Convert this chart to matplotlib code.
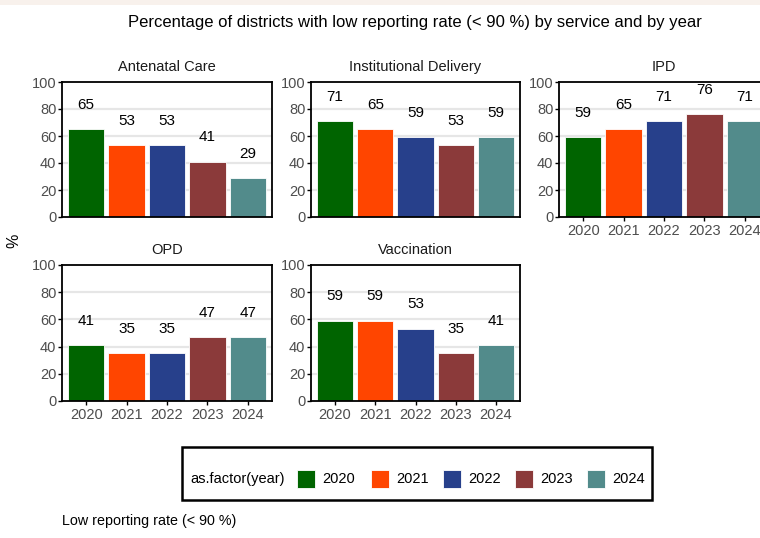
import matplotlib
matplotlib.use("Agg")
import matplotlib.pyplot as plt
from matplotlib.patches import Rectangle

plt.rcParams['font.family'] = ['Liberation Sans', 'DejaVu Sans']

years = ["2020", "2021", "2022", "2023", "2024"]
services = ["Antenatal Care", "Institutional Delivery", "IPD", "OPD", "Vaccination"]
antenatal = [65, 53, 53, 41, 29]
institutional = [71, 65, 59, 53, 59]
ipd = [59, 65, 71, 76, 71]
opd = [41, 35, 35, 47, 47]
vaccination = [59, 59, 53, 35, 41]
values = [antenatal, institutional, ipd, opd, vaccination]
colors = ["#006400", "#FF4500", "#27408B", "#8B3A3A", "#528B8B"]
yticks = [0, 20, 40, 60, 80, 100]

W, H = 760, 538
fig = plt.figure(figsize=(W / 100, H / 100), dpi=100)

# faint band at top
fig.patches.append(Rectangle((0, 1 - 5 / H), 1, 5 / H, transform=fig.transFigure,
                             facecolor="#f8f1ec", edgecolor="none", zorder=0))

def px_axes(l, t, r, b):
    return fig.add_axes([l / W, 1 - b / H, (r - l) / W, (b - t) / H])

panel_px = {
    "Antenatal Care": (62, 82, 272, 217),
    "Institutional Delivery": (311, 82, 520, 217),
    "IPD": (559, 82, 769, 217),
    "OPD": (62, 265, 272, 401),
    "Vaccination": (311, 265, 520, 401),
}
show_x = {"Antenatal Care": False, "Institutional Delivery": False, "IPD": True,
          "OPD": True, "Vaccination": True}

xs = list(range(1, len(years) + 1))
for name, vals in zip(services, values):
    ax = px_axes(*panel_px[name])
    ax.set_xlim(0.4, 5.6)
    ax.set_ylim(0, 100)
    for y in [20, 40, 60, 80]:
        ax.axhline(y, color="#e6e6e6", lw=1.6, zorder=0)
    ax.bar(xs, vals, width=0.9, color=colors, edgecolor="white", linewidth=0.6, zorder=2)
    for x, v in zip(xs, vals):
        ax.text(x, v + 18, str(v), ha="center", va="center", fontsize=11,
                color="black", zorder=3)
    ax.set_yticks(yticks)
    ax.set_yticklabels([str(t) for t in yticks], fontsize=10.5, color="#4d4d4d")
    ax.tick_params(axis="y", length=3, width=1, color="black", pad=1)
    if show_x[name]:
        ax.set_xticks(xs)
        ax.set_xticklabels(years, fontsize=10.5, color="#4d4d4d")
        ax.tick_params(axis="x", length=3, width=1, color="black", pad=2)
    else:
        ax.set_xticks([])
    for sp in ax.spines.values():
        sp.set_color("black")
        sp.set_linewidth(1.3)
    ax.set_title(name, fontsize=10.5, color="#1a1a1a", pad=8)

fig.text(415 / W, 1 - 22 / H, "Percentage of districts with low reporting rate (< 90 %) by service and by year",
         ha="center", va="center", fontsize=12, color="black")
fig.text(14 / W, 1 - 241 / H, "%", rotation=90, ha="center", va="center", fontsize=11.5, color="black")
fig.text(62 / W, 1 - 521 / H, "Low reporting rate (< 90 %)", ha="left", va="center", fontsize=10.3,
         color="black")

# legend box
lx0, ly0, lx1, ly1 = 182, 447, 652, 500
fig.patches.append(Rectangle((lx0 / W, 1 - ly1 / H), (lx1 - lx0) / W, (ly1 - ly0) / H,
                             transform=fig.transFigure, facecolor="white", edgecolor="black",
                             linewidth=1.8, zorder=1))
cy = 479
fig.text(190 / W, 1 - cy / H, "as.factor(year)", ha="left", va="center", fontsize=10.5, color="black")
key_x = [297, 371, 443, 515, 587]
for kx, c, yr in zip(key_x, colors, years):
    fig.patches.append(Rectangle((kx / W, 1 - (cy + 9) / H), 18 / W, 18 / H,
                                 transform=fig.transFigure, facecolor=c, edgecolor="white",
                                 linewidth=0.6, zorder=2))
    fig.text((kx + 25) / W, 1 - cy / H, yr, ha="left", va="center", fontsize=10.5, color="black")

fig.savefig("out.png", dpi=100, facecolor="white")
